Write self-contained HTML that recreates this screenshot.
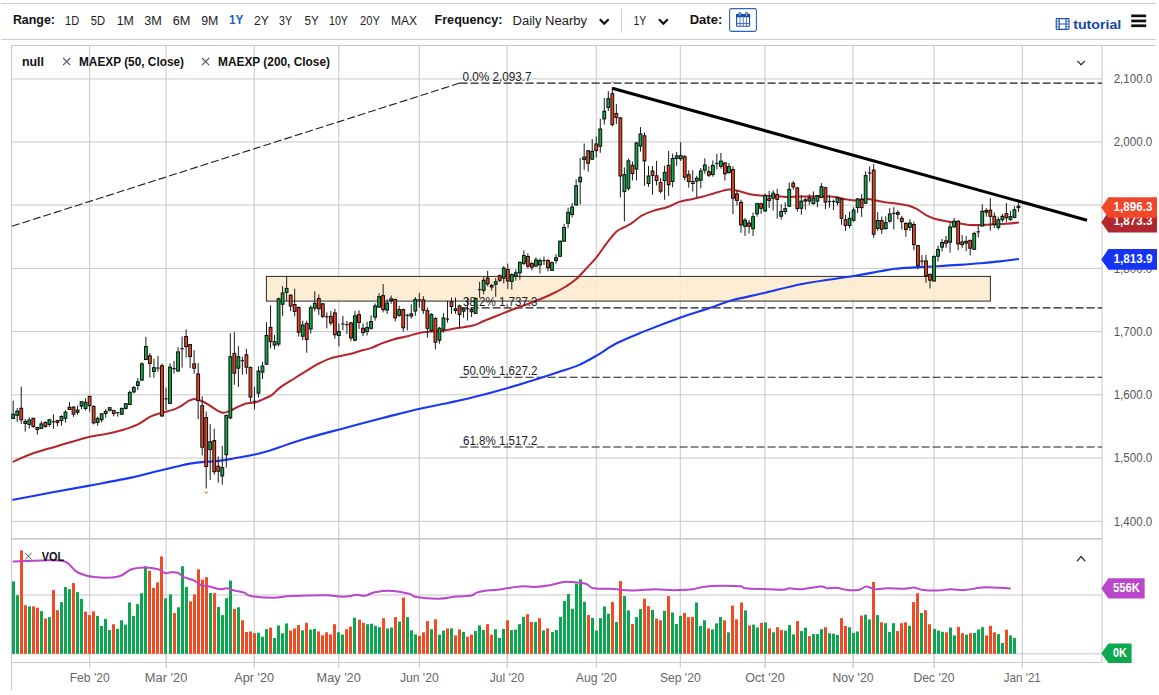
<!DOCTYPE html>
<html><head><meta charset="utf-8"><title>Chart</title>
<style>
html,body{margin:0;padding:0;background:#fff;}
body{width:1159px;height:695px;overflow:hidden;font-family:"Liberation Sans",sans-serif;}
svg{display:block}
text{font-family:"Liberation Sans",sans-serif;}
</style></head><body>
<svg width="1159" height="695" viewBox="0 0 1159 695">
<rect width="1159" height="695" fill="#fff"/>
<g id="toolbar">
<rect x="1" y="3" width="1155" height="1" fill="#cdcdcd"/>
<rect x="1" y="39" width="1155" height="1" fill="#cdcdcd"/>
<text x="12.9" y="24.2" font-size="12.5" font-weight="bold" fill="#111" textLength="42.1" lengthAdjust="spacingAndGlyphs">Range:</text>
<text x="65.1" y="24.8" font-size="12.5" fill="#222" textLength="14.2" lengthAdjust="spacingAndGlyphs">1D</text>
<text x="90.7" y="24.8" font-size="12.5" fill="#222" textLength="14.3" lengthAdjust="spacingAndGlyphs">5D</text>
<text x="116.7" y="24.8" font-size="12.5" fill="#222" textLength="17.1" lengthAdjust="spacingAndGlyphs">1M</text>
<text x="144.3" y="24.8" font-size="12.5" fill="#222" textLength="17.6" lengthAdjust="spacingAndGlyphs">3M</text>
<text x="172.7" y="24.8" font-size="12.5" fill="#222" textLength="17.7" lengthAdjust="spacingAndGlyphs">6M</text>
<text x="201.2" y="24.8" font-size="12.5" fill="#222" textLength="17.1" lengthAdjust="spacingAndGlyphs">9M</text>
<text x="229" y="24.2" font-size="12.5" font-weight="bold" fill="#1f5fbf" textLength="14.5" lengthAdjust="spacingAndGlyphs">1Y</text>
<text x="254" y="24.8" font-size="12.5" fill="#222" textLength="15" lengthAdjust="spacingAndGlyphs">2Y</text>
<text x="279" y="24.8" font-size="12.5" fill="#222" textLength="13" lengthAdjust="spacingAndGlyphs">3Y</text>
<text x="304.5" y="24.8" font-size="12.5" fill="#222" textLength="14.2" lengthAdjust="spacingAndGlyphs">5Y</text>
<text x="329" y="24.8" font-size="12.5" fill="#222" textLength="19" lengthAdjust="spacingAndGlyphs">10Y</text>
<text x="360" y="24.8" font-size="12.5" fill="#222" textLength="20" lengthAdjust="spacingAndGlyphs">20Y</text>
<text x="391" y="24.8" font-size="12.5" fill="#222" textLength="26" lengthAdjust="spacingAndGlyphs">MAX</text>
<text x="434.5" y="24.2" font-size="12.5" font-weight="bold" fill="#111" textLength="68" lengthAdjust="spacingAndGlyphs">Frequency:</text>
<text x="512.6" y="24.7" font-size="12.5" fill="#222" textLength="74.4" lengthAdjust="spacingAndGlyphs">Daily Nearby</text>
<path d="M599.8 19.3 L604.2 23.8 L608.6 19.3" fill="none" stroke="#111" stroke-width="2.2"/>
<rect x="621" y="8.5" width="1" height="24" fill="#d0d0d0"/>
<text x="633.4" y="24.7" font-size="12.5" fill="#222" textLength="12.8" lengthAdjust="spacingAndGlyphs">1Y</text>
<path d="M659 19.3 L663.4 23.8 L667.8 19.3" fill="none" stroke="#111" stroke-width="2.2"/>
<text x="689.7" y="24.2" font-size="12.5" font-weight="bold" fill="#111" textLength="32.6" lengthAdjust="spacingAndGlyphs">Date:</text>
<rect x="729.6" y="8.6" width="26.8" height="22.8" rx="1.8" fill="#fff" stroke="#2566c8" stroke-width="1.1"/>
<rect x="736.6" y="14.5" width="13" height="11.8" rx="0.8" fill="#fff" stroke="#1d4fa0" stroke-width="1.1"/>
<rect x="736.1" y="14" width="14" height="3.3" fill="#1d4fa0"/>
<path d="M740 17.3 V26 M743.3 17.3 V26 M746.5 17.3 V26" stroke="#3f74d4" stroke-width="0.9" fill="none"/>
<path d="M737 23.6 H749.4" stroke="#2a5ab0" stroke-width="0.9" fill="none"/>
<rect x="738.7" y="12.4" width="2.3" height="3.7" rx="1" fill="#8fbcf5" stroke="#1d4fa0" stroke-width="0.9"/>
<rect x="745.5" y="12.4" width="2.3" height="3.7" rx="1" fill="#8fbcf5" stroke="#1d4fa0" stroke-width="0.9"/>
<g stroke="#1a4fa8" fill="none" stroke-width="1.1">
<rect x="1056.2" y="18.6" width="12.8" height="10.8" rx="0.8"/>
<path d="M1059.2 18.6 V29.4 M1066 18.6 V29.4 M1059.2 24 H1066" />
<path d="M1056.2 21.3 H1059.2 M1056.2 24 H1059.2 M1056.2 26.7 H1059.2 M1066 21.3 H1069 M1066 24 H1069 M1066 26.7 H1069" stroke-width="0.8"/>
</g>
<text x="1073.2" y="28.5" font-size="13" font-weight="bold" fill="#1247a0" textLength="48.1" lengthAdjust="spacingAndGlyphs">tutorial</text>
<rect x="1131.2" y="14.5" width="15" height="2.7" fill="#111"/>
<rect x="1131.2" y="19.6" width="15" height="2.7" fill="#111"/>
<rect x="1131.2" y="24.4" width="15" height="2.7" fill="#111"/>
</g>
<g id="grid">
<rect x="89.20" y="45.5" width="1" height="622" fill="#c8c8c8"/>
<rect x="165.55" y="45.5" width="1" height="622" fill="#c8c8c8"/>
<rect x="253.70" y="45.5" width="1" height="622" fill="#c8c8c8"/>
<rect x="338.25" y="45.5" width="1" height="622" fill="#c8c8c8"/>
<rect x="418.75" y="45.5" width="1" height="622" fill="#c8c8c8"/>
<rect x="506.50" y="45.5" width="1" height="622" fill="#c8c8c8"/>
<rect x="595.75" y="45.5" width="1" height="622" fill="#c8c8c8"/>
<rect x="679.75" y="45.5" width="1" height="622" fill="#c8c8c8"/>
<rect x="764.50" y="45.5" width="1" height="622" fill="#c8c8c8"/>
<rect x="852.50" y="45.5" width="1" height="622" fill="#c8c8c8"/>
<rect x="933.50" y="45.5" width="1" height="622" fill="#c8c8c8"/>
<rect x="1021.75" y="45.5" width="1" height="622" fill="#c8c8c8"/>
<rect x="11.5" y="141.40" width="1090.5" height="1" fill="#c8c8c8"/>
<rect x="11.5" y="204.60" width="1090.5" height="1" fill="#c8c8c8"/>
<rect x="11.5" y="267.90" width="1090.5" height="1" fill="#c8c8c8"/>
<rect x="11.5" y="331.10" width="1090.5" height="1" fill="#c8c8c8"/>
<rect x="11.5" y="394.30" width="1090.5" height="1" fill="#c8c8c8"/>
<rect x="11.5" y="457.55" width="1090.5" height="1" fill="#c8c8c8"/>
<rect x="11.5" y="520.80" width="1090.5" height="1" fill="#c8c8c8"/>
<rect x="11.5" y="594.5" width="1090.5" height="1" fill="#c8c8c8"/>
<rect x="11.5" y="78.45" width="1090.5" height="1" fill="#c8c8c8"/>
<rect x="11.0" y="45" width="1145.0" height="1" fill="#c8c8c8"/>
<rect x="11.0" y="45" width="1" height="645" fill="#c8c8c8"/>
<rect x="1101.5" y="45" width="1" height="618" fill="#c8c8c8"/>
<rect x="11.5" y="538" width="1090.5" height="1.6" fill="#c8c8c8"/>
<rect x="11.5" y="653.3" width="1090.5" height="1" fill="#c8c8c8"/>
<rect x="11.5" y="662" width="1090.5" height="1" fill="#c8c8c8"/>
</g>
<path d="M459.6 83.1 L11.5 226.4" stroke="#1c1c1c" stroke-width="1.1" stroke-dasharray="8 3" fill="none"/>
<path d="M459.6 83.1 L1102 83.1" stroke="#1c1c1c" stroke-width="1.1" stroke-dasharray="8 3" fill="none"/>
<path d="M459.6 307.9 L1102 307.9" stroke="#1c1c1c" stroke-width="1.1" stroke-dasharray="8 3" fill="none"/>
<path d="M459.6 377.3 L1102 377.3" stroke="#1c1c1c" stroke-width="1.1" stroke-dasharray="8 3" fill="none"/>
<path d="M459.6 447 L1102 447" stroke="#1c1c1c" stroke-width="1.1" stroke-dasharray="8 3" fill="none"/>
<rect x="266.4" y="276.4" width="724" height="24.7" fill="#fdebcf" fill-opacity="0.88" stroke="#2a2a2a" stroke-width="1"/>
<path d="M13.2 499.8 C19.3 498.6 37.3 495.2 50.0 492.8 C62.7 490.4 75.8 488.2 89.5 485.6 C103.2 483.0 121.3 479.7 132.2 477.4 C143.1 475.1 147.2 473.7 154.8 471.8 C162.4 469.9 172.1 467.6 178.0 466.2 C183.9 464.8 185.6 464.3 190.0 463.6 C194.4 462.9 199.6 462.3 204.4 461.9 C209.2 461.4 214.0 461.5 218.8 460.9 C223.6 460.3 227.2 459.6 233.2 458.5 C239.2 457.4 248.9 455.8 254.7 454.5 C260.5 453.2 263.8 452.2 268.0 451.0 C272.2 449.8 273.7 449.1 280.0 447.0 C286.3 444.9 296.0 441.4 305.9 438.5 C315.8 435.6 326.6 432.8 339.5 429.4 C352.4 425.9 370.1 421.2 383.5 417.8 C396.9 414.4 409.4 411.1 419.8 408.7 C430.2 406.3 436.6 405.4 445.7 403.5 C454.8 401.6 463.8 399.7 474.1 397.1 C484.5 394.5 497.0 391.1 507.8 388.0 C518.6 384.9 530.2 381.1 538.9 378.4 C547.6 375.6 553.4 373.7 560.0 371.5 C566.6 369.3 572.6 367.7 578.7 365.1 C584.8 362.5 590.3 359.3 596.5 355.7 C602.7 352.1 608.1 347.6 616.1 343.5 C624.1 339.4 633.4 335.8 644.2 331.4 C655.0 327.0 669.8 321.3 680.7 317.4 C691.6 313.5 701.1 310.9 709.7 308.0 C718.3 305.1 722.8 302.9 732.1 300.3 C741.4 297.8 753.4 295.5 765.3 292.7 C777.2 289.9 788.7 286.5 803.5 283.7 C818.3 280.9 841.2 278.1 854.0 276.0 C866.8 273.9 873.2 272.5 880.0 271.3 C886.8 270.1 889.2 269.5 895.0 268.8 C900.8 268.1 907.8 267.8 914.9 267.4 C922.0 267.0 930.2 266.6 937.6 266.2 C945.0 265.8 952.0 265.4 959.1 264.9 C966.2 264.4 973.2 263.9 980.0 263.3 C986.8 262.7 993.7 262.1 1000.0 261.4 C1006.3 260.7 1015.0 259.5 1018.0 259.1" fill="none" stroke="#1a38ee" stroke-width="2.1" stroke-linejoin="round" stroke-linecap="round"/>
<path d="M13.4 461.6 C16.6 460.2 25.2 456.1 32.5 453.5 C39.8 450.9 47.5 449.0 56.9 446.2 C66.3 443.4 80.6 438.9 88.7 436.9 C96.8 434.9 100.3 435.1 105.8 434.0 C111.3 432.9 116.3 431.9 121.6 430.3 C126.9 428.8 132.6 427.0 137.4 424.7 C142.2 422.4 146.6 418.5 150.4 416.6 C154.2 414.7 156.3 414.4 160.4 413.2 C164.5 411.9 171.2 410.4 174.8 409.1 C178.4 407.8 179.7 406.9 182.0 405.5 C184.3 404.1 186.5 402.0 188.6 400.9 C190.7 399.8 192.2 398.9 194.4 398.9 C196.6 398.9 199.2 400.0 201.6 401.0 C204.0 402.0 206.2 403.3 208.8 404.9 C211.4 406.5 215.0 409.3 217.4 410.6 C219.8 411.9 221.3 412.7 223.2 412.8 C225.1 412.9 226.5 412.4 228.9 411.4 C231.3 410.4 234.7 408.3 237.6 407.0 C240.5 405.7 243.3 404.2 246.2 403.5 C249.1 402.8 251.9 403.2 254.8 402.5 C257.7 401.8 260.6 400.4 263.5 399.1 C266.4 397.8 269.4 396.7 272.1 394.8 C274.9 392.9 276.2 390.4 280.0 387.6 C283.8 384.8 290.2 381.1 295.0 378.0 C299.8 374.9 305.1 371.6 308.9 369.3 C312.7 367.0 314.2 365.9 317.6 364.2 C321.0 362.5 325.3 360.3 329.1 358.9 C332.9 357.5 337.0 356.9 340.6 356.0 C344.2 355.1 347.8 354.6 351.0 353.8 C354.2 353.0 356.8 351.9 360.0 351.0 C363.2 350.1 366.5 349.7 370.1 348.4 C373.7 347.1 377.9 344.9 381.7 343.4 C385.5 341.9 388.9 340.6 393.2 339.4 C397.5 338.2 403.3 337.3 407.6 336.2 C411.9 335.1 415.3 333.7 419.1 332.9 C422.9 332.1 426.7 331.9 430.6 331.6 C434.5 331.3 438.1 331.5 442.5 330.9 C446.9 330.3 452.2 329.0 457.3 328.1 C462.4 327.2 468.8 326.7 473.1 325.6 C477.4 324.5 479.1 323.0 483.2 321.3 C487.3 319.6 492.8 317.4 497.6 315.5 C502.4 313.6 507.1 311.6 511.9 309.8 C516.7 308.0 521.6 306.2 526.3 304.5 C531.0 302.8 535.2 301.3 540.0 299.3 C544.8 297.3 550.8 294.6 555.0 292.5 C559.2 290.4 561.5 289.2 565.0 287.0 C568.5 284.8 572.2 282.6 576.0 279.3 C579.8 276.0 584.2 270.7 587.6 267.1 C591.0 263.5 592.9 261.9 596.2 257.7 C599.6 253.5 604.4 246.2 607.7 241.9 C611.1 237.6 613.7 234.2 616.3 231.8 C618.9 229.4 621.0 228.8 623.5 227.5 C626.0 226.2 628.0 225.7 631.0 223.7 C634.0 221.7 638.0 217.7 641.7 215.6 C645.4 213.5 648.9 212.3 653.2 210.9 C657.5 209.5 663.3 208.5 667.6 207.0 C671.9 205.5 675.3 203.2 679.1 201.9 C682.9 200.6 686.8 200.2 690.6 199.4 C694.4 198.6 698.1 197.8 702.1 196.8 C706.1 195.8 710.0 194.4 714.4 193.2 C718.8 192.0 725.0 190.0 728.8 189.6 C732.6 189.2 734.0 190.1 737.4 190.8 C740.8 191.5 745.1 193.1 748.9 193.9 C752.7 194.7 756.1 195.2 760.4 195.6 C764.7 196.0 770.5 195.9 774.8 196.1 C779.1 196.3 782.1 196.9 786.3 197.0 C790.5 197.1 794.6 196.7 800.0 196.6 C805.4 196.5 813.3 196.3 818.8 196.3 C824.3 196.3 828.4 196.2 833.2 196.8 C838.0 197.4 843.8 199.0 847.6 199.6 C851.4 200.2 852.9 200.5 856.2 200.4 C859.6 200.3 864.4 198.9 867.7 198.9 C871.1 198.9 873.4 200.0 876.3 200.6 C879.2 201.2 882.0 201.9 885.0 202.3 C888.0 202.8 890.4 202.7 894.4 203.3 C898.4 203.9 905.0 204.8 908.8 205.8 C912.6 206.8 914.5 207.9 917.4 209.4 C920.3 210.9 923.1 213.6 926.0 215.1 C928.9 216.6 931.3 217.7 934.7 218.7 C938.1 219.7 942.4 220.5 946.2 221.2 C950.0 221.9 953.9 222.5 957.7 223.1 C961.5 223.7 965.0 224.7 969.2 225.0 C973.4 225.3 978.8 225.0 983.0 224.9 C987.2 224.8 990.7 224.5 994.5 224.3 C998.3 224.1 1002.1 224.0 1006.0 223.7 C1009.9 223.4 1016.1 222.8 1018.1 222.6" fill="none" stroke="#b3262c" stroke-width="2.05" stroke-linejoin="round" stroke-linecap="round"/>
<g id="candles">
<path d="M13.20 400.7V418.8M17.22 408.1V421.9M21.24 386.6V423.9M25.26 418.8V431.6M29.28 417.3V428.4M33.30 417.8V427.9M37.33 426.9V434.6M41.35 421.2V428.6M45.37 421.4V427.9M49.39 418.8V426.9M53.41 414.3V428.9M57.43 419.8V426.4M61.45 415.3V425.6M65.47 410.3V422.6M69.49 402.2V409.8M73.52 406.3V416.8M77.54 405.7V414.8M81.56 401.2V409.3M85.58 398.2V410.3M89.60 395.7V411.8M93.62 405.2V424.4M97.64 416.5V425.6M101.66 413.1V422.4M105.68 409.2V417.6M109.70 407.3V411.3M113.72 409.9V416.3M117.75 412.0V416.6M121.77 407.7V414.9M125.79 403.1V409.4M129.81 390.4V405.1M133.83 386.1V393.3M137.85 378.2V390.1M141.87 362.4V380.6M145.89 336.9V360.2M149.91 353.0V377.5M153.93 358.8V377.8M157.96 355.9V371.7M161.98 363.4V417.0M166.00 387.6V409.9M170.02 363.4V404.1M174.04 360.9V373.5M178.06 347.3V371.7M182.08 336.5V367.6M186.10 329.4V357.4M190.12 344.0V368.2M194.14 350.2V373.7M198.17 363.2V419.3M202.19 396.3V455.4M206.21 411.5V488.5M210.23 424.2V479.9M214.25 428.8V474.5M218.27 456.4V482.7M222.29 446.0V484.6M226.31 414.4V467.6M230.33 333.2V419.3M234.35 332.2V384.7M238.38 346.2V386.9M242.40 356.7V374.7M246.42 348.8V374.0M250.44 366.3V402.0M254.46 386.9V409.5M258.48 366.3V397.4M262.50 362.0V379.0M266.52 322.3V365.0M270.54 305.3V348.4M274.56 334.9V349.4M278.59 297.6V346.3M282.61 286.1V315.8M286.63 276.0V300.9M290.65 294.2V311.0M294.67 288.7V316.3M298.69 306.7V336.5M302.71 320.6V340.2M306.73 320.6V352.7M310.75 305.3V333.6M314.77 291.3V311.4M318.80 294.5V314.9M322.82 303.1V318.2M326.84 312.4V328.3M330.86 311.0V325.4M334.88 308.8V338.8M338.90 323.5V346.3M342.92 316.0V330.1M346.94 321.1V334.0M350.96 321.8V341.2M354.98 311.0V341.2M359.01 310.3V329.0M363.03 323.5V336.2M367.05 321.8V335.5M371.07 315.3V329.7M375.09 303.4V320.6M379.11 293.3V307.7M383.13 284.1V312.4M387.15 299.5V313.9M391.17 295.6V303.8M395.19 298.5V321.5M399.22 305.7V316.8M403.24 308.6V331.6M407.26 313.9V330.4M411.28 304.2V318.6M415.30 297.0V315.8M419.32 292.7V307.7M423.34 296.2V313.9M427.36 307.4V337.6M431.38 313.2V332.2M435.40 317.2V349.4M439.43 326.8V343.7M443.45 313.2V332.6M447.47 300.8V322.6M451.49 297.6V314.1M455.51 297.6V313.7M459.53 304.7V327.8M463.55 307.6V317.7M467.57 297.6V320.6M471.59 307.6V317.0M475.61 297.6V314.1M479.64 281.7V297.6M483.66 277.1V294.4M487.68 270.9V286.3M491.70 283.9V290.6M495.72 278.1V296.8M499.74 274.5V282.0M503.76 266.2V283.5M507.78 263.7V288.9M511.80 273.4V289.6M515.83 269.5V280.6M519.85 261.6V279.6M523.87 250.4V265.2M527.89 253.2V268.5M531.91 261.6V270.4M535.93 257.3V267.0M539.95 258.4V273.5M543.97 256.5V264.9M547.99 258.8V271.4M552.01 261.3V270.9M556.04 254.1V263.7M560.06 240.4V257.0M564.08 223.9V241.9M568.10 207.6V228.2M572.12 203.0V217.4M576.14 179.3V205.6M580.16 158.1V204.5M584.18 143.5V169.7M588.20 149.8V171.7M592.22 139.0V159.9M596.25 136.6V157.5M600.27 118.9V152.7M604.29 98.0V124.6M608.31 91.1V111.0M612.33 87.2V126.5M616.35 104.1V123.9M620.37 117.0V197.6M624.39 167.4V221.4M628.41 158.5V190.4M632.43 161.4V180.4M636.46 142.2V180.4M640.48 127.1V151.6M644.50 132.6V185.8M648.52 166.0V186.8M652.54 166.0V194.7M656.56 160.9V185.4M660.58 178.2V193.3M664.60 165.7V199.8M668.62 150.9V195.9M672.64 153.7V187.3M676.67 151.9V165.7M680.69 142.2V160.9M684.71 155.2V180.4M688.73 170.3V187.6M692.75 170.3V191.6M696.77 175.8V197.6M700.79 168.1V188.3M704.81 158.3V173.8M708.83 166.3V177.0M712.85 160.5V176.7M716.88 153.9V169.5M720.90 152.9V168.7M724.92 162.0V180.7M728.94 163.0V173.5M732.96 166.3V214.1M736.98 190.3V205.4M741.00 199.7V232.8M745.02 218.1V235.9M749.04 219.8V233.5M753.06 212.6V235.9M757.09 202.8V216.7M761.11 202.6V213.8M765.13 193.6V211.9M769.15 191.0V208.0M773.17 190.3V210.5M777.19 188.9V218.7M781.21 204.3V219.5M785.23 202.3V214.4M789.25 182.7V206.9M793.27 180.9V189.6M797.30 186.7V211.7M801.32 195.3V214.7M805.34 197.5V209.7M809.36 194.3V204.7M813.38 191.4V204.7M817.40 194.9V207.3M821.42 183.1V198.2M825.44 186.7V209.0M829.46 194.9V207.8M833.48 199.6V210.1M837.50 196.8V205.4M841.53 198.2V224.8M845.55 215.0V230.9M849.57 211.6V228.4M853.59 207.3V221.9M857.61 198.2V213.0M861.63 194.3V216.9M865.65 171.3V204.0M869.67 166.5V181.7M873.69 164.1V237.8M877.72 212.2V230.9M881.74 216.6V234.0M885.76 216.4V229.6M889.78 208.2V222.6M893.80 207.2V229.5M897.82 210.1V219.5M901.84 215.9V229.5M905.86 222.0V236.7M909.88 219.2V231.0M913.90 221.6V250.4M917.93 245.0V269.5M921.95 255.1V265.8M925.97 254.7V282.8M929.99 273.4V288.5M934.01 255.4V281.6M938.03 245.6V261.5M942.05 238.9V251.4M946.07 236.0V247.9M950.09 223.1V252.6M954.11 218.0V227.8M958.13 220.2V250.4M962.16 235.1V248.2M966.18 236.1V251.1M970.20 239.7V255.5M974.22 231.6V250.0M978.24 225.0V237.5M982.26 204.2V226.6M986.28 208.2V216.6M990.30 198.2V230.6M994.32 212.5V227.8M998.35 216.8V229.7M1002.37 214.0V222.0M1006.39 203.0V222.4M1010.41 210.8V220.9M1014.43 206.2V218.2M1018.45 203.0V212.0" stroke="#1a1a1a" stroke-width="1" fill="none"/>
<rect x="11.80" y="414.3" width="2.8" height="4.2" fill="#12aa4a" stroke="#0a0a0a" stroke-width="1"/>
<rect x="15.82" y="411.1" width="2.8" height="4.2" fill="#12aa4a" stroke="#0a0a0a" stroke-width="1"/>
<rect x="19.84" y="408.3" width="2.8" height="11.5" fill="#ee4424" stroke="#0a0a0a" stroke-width="1"/>
<rect x="23.86" y="421.4" width="2.8" height="2.0" fill="#ee4424" stroke="#0a0a0a" stroke-width="1"/>
<rect x="27.88" y="420.0" width="2.8" height="4.4" fill="#12aa4a" stroke="#0a0a0a" stroke-width="1"/>
<rect x="31.91" y="418.3" width="2.8" height="8.1" fill="#ee4424" stroke="#0a0a0a" stroke-width="1"/>
<rect x="35.93" y="427.4" width="2.8" height="2.2" fill="#ee4424" stroke="#0a0a0a" stroke-width="1"/>
<rect x="39.95" y="423.9" width="2.8" height="4.5" fill="#12aa4a" stroke="#0a0a0a" stroke-width="1"/>
<rect x="43.97" y="422.4" width="2.8" height="4.0" fill="#ee4424" stroke="#0a0a0a" stroke-width="1"/>
<rect x="47.99" y="419.8" width="2.8" height="4.6" fill="#12aa4a" stroke="#0a0a0a" stroke-width="1"/>
<rect x="51.71" y="421.1" width="3.4" height="1.2" fill="#1a1a1a"/>
<rect x="56.03" y="420.6" width="2.8" height="2.0" fill="#ee4424" stroke="#0a0a0a" stroke-width="1"/>
<rect x="60.05" y="416.5" width="2.8" height="4.1" fill="#12aa4a" stroke="#0a0a0a" stroke-width="1"/>
<rect x="64.07" y="412.1" width="2.8" height="6.2" fill="#12aa4a" stroke="#0a0a0a" stroke-width="1"/>
<rect x="68.09" y="407.3" width="2.8" height="2.2" fill="#ee4424" stroke="#0a0a0a" stroke-width="1"/>
<rect x="72.11" y="407.1" width="2.8" height="7.0" fill="#ee4424" stroke="#0a0a0a" stroke-width="1"/>
<rect x="76.14" y="410.1" width="2.8" height="2.2" fill="#12aa4a" stroke="#0a0a0a" stroke-width="1"/>
<rect x="80.16" y="401.7" width="2.8" height="4.4" fill="#12aa4a" stroke="#0a0a0a" stroke-width="1"/>
<rect x="84.18" y="402.4" width="2.8" height="6.1" fill="#12aa4a" stroke="#0a0a0a" stroke-width="1"/>
<rect x="88.20" y="396.4" width="2.8" height="9.3" fill="#ee4424" stroke="#0a0a0a" stroke-width="1"/>
<rect x="92.22" y="406.5" width="2.8" height="16.4" fill="#ee4424" stroke="#0a0a0a" stroke-width="1"/>
<rect x="96.24" y="418.5" width="2.8" height="3.9" fill="#12aa4a" stroke="#0a0a0a" stroke-width="1"/>
<rect x="100.26" y="413.8" width="2.8" height="6.0" fill="#12aa4a" stroke="#0a0a0a" stroke-width="1"/>
<rect x="104.28" y="411.4" width="2.8" height="2.0" fill="#12aa4a" stroke="#0a0a0a" stroke-width="1"/>
<rect x="108.30" y="407.7" width="2.8" height="2.6" fill="#12aa4a" stroke="#0a0a0a" stroke-width="1"/>
<rect x="112.32" y="410.6" width="2.8" height="2.9" fill="#ee4424" stroke="#0a0a0a" stroke-width="1"/>
<rect x="116.05" y="412.1" width="3.4" height="1.2" fill="#1a1a1a"/>
<rect x="120.37" y="408.4" width="2.8" height="5.8" fill="#12aa4a" stroke="#0a0a0a" stroke-width="1"/>
<rect x="124.39" y="403.7" width="2.8" height="4.7" fill="#12aa4a" stroke="#0a0a0a" stroke-width="1"/>
<rect x="128.41" y="392.6" width="2.8" height="11.9" fill="#12aa4a" stroke="#0a0a0a" stroke-width="1"/>
<rect x="132.43" y="387.6" width="2.8" height="4.3" fill="#12aa4a" stroke="#0a0a0a" stroke-width="1"/>
<rect x="136.45" y="381.8" width="2.8" height="3.6" fill="#12aa4a" stroke="#0a0a0a" stroke-width="1"/>
<rect x="140.47" y="363.8" width="2.8" height="16.3" fill="#12aa4a" stroke="#0a0a0a" stroke-width="1"/>
<rect x="144.49" y="346.5" width="2.8" height="13.0" fill="#12aa4a" stroke="#0a0a0a" stroke-width="1"/>
<rect x="148.51" y="355.9" width="2.8" height="7.5" fill="#ee4424" stroke="#0a0a0a" stroke-width="1"/>
<rect x="152.53" y="367.7" width="2.8" height="3.7" fill="#12aa4a" stroke="#0a0a0a" stroke-width="1"/>
<rect x="156.26" y="367.5" width="3.4" height="1.2" fill="#1a1a1a"/>
<rect x="160.58" y="365.7" width="2.8" height="50.3" fill="#ee4424" stroke="#0a0a0a" stroke-width="1"/>
<rect x="164.30" y="398.2" width="3.4" height="1.2" fill="#1a1a1a"/>
<rect x="168.62" y="367.1" width="2.8" height="36.3" fill="#12aa4a" stroke="#0a0a0a" stroke-width="1"/>
<rect x="172.34" y="368.0" width="3.4" height="1.2" fill="#1a1a1a"/>
<rect x="176.66" y="351.9" width="2.8" height="19.1" fill="#12aa4a" stroke="#0a0a0a" stroke-width="1"/>
<rect x="180.38" y="348.2" width="3.4" height="1.2" fill="#1a1a1a"/>
<rect x="184.70" y="336.5" width="2.8" height="10.1" fill="#ee4424" stroke="#0a0a0a" stroke-width="1"/>
<rect x="188.72" y="344.6" width="2.8" height="11.8" fill="#ee4424" stroke="#0a0a0a" stroke-width="1"/>
<rect x="192.74" y="363.9" width="2.8" height="4.3" fill="#ee4424" stroke="#0a0a0a" stroke-width="1"/>
<rect x="196.77" y="374.0" width="2.8" height="26.6" fill="#ee4424" stroke="#0a0a0a" stroke-width="1"/>
<rect x="200.79" y="405.7" width="2.8" height="41.5" fill="#ee4424" stroke="#0a0a0a" stroke-width="1"/>
<rect x="204.81" y="417.6" width="2.8" height="48.9" fill="#ee4424" stroke="#0a0a0a" stroke-width="1"/>
<rect x="208.83" y="441.7" width="2.8" height="7.9" fill="#12aa4a" stroke="#0a0a0a" stroke-width="1"/>
<rect x="212.85" y="440.6" width="2.8" height="31.1" fill="#ee4424" stroke="#0a0a0a" stroke-width="1"/>
<rect x="216.87" y="466.2" width="2.8" height="5.0" fill="#ee4424" stroke="#0a0a0a" stroke-width="1"/>
<rect x="220.89" y="467.6" width="2.8" height="8.4" fill="#12aa4a" stroke="#0a0a0a" stroke-width="1"/>
<rect x="224.91" y="415.5" width="2.8" height="39.2" fill="#12aa4a" stroke="#0a0a0a" stroke-width="1"/>
<rect x="228.93" y="356.7" width="2.8" height="61.1" fill="#12aa4a" stroke="#0a0a0a" stroke-width="1"/>
<rect x="232.95" y="353.4" width="2.8" height="19.8" fill="#ee4424" stroke="#0a0a0a" stroke-width="1"/>
<rect x="236.98" y="356.7" width="2.8" height="11.5" fill="#12aa4a" stroke="#0a0a0a" stroke-width="1"/>
<rect x="240.70" y="360.1" width="3.4" height="1.2" fill="#1a1a1a"/>
<rect x="245.02" y="354.8" width="2.8" height="12.4" fill="#ee4424" stroke="#0a0a0a" stroke-width="1"/>
<rect x="249.04" y="367.5" width="2.8" height="29.5" fill="#ee4424" stroke="#0a0a0a" stroke-width="1"/>
<rect x="252.76" y="400.7" width="3.4" height="1.2" fill="#1a1a1a"/>
<rect x="257.08" y="371.1" width="2.8" height="22.0" fill="#12aa4a" stroke="#0a0a0a" stroke-width="1"/>
<rect x="261.10" y="366.0" width="2.8" height="6.1" fill="#12aa4a" stroke="#0a0a0a" stroke-width="1"/>
<rect x="265.12" y="335.5" width="2.8" height="28.7" fill="#12aa4a" stroke="#0a0a0a" stroke-width="1"/>
<rect x="269.14" y="327.4" width="2.8" height="14.3" fill="#ee4424" stroke="#0a0a0a" stroke-width="1"/>
<rect x="273.17" y="341.7" width="2.8" height="3.4" fill="#12aa4a" stroke="#0a0a0a" stroke-width="1"/>
<rect x="277.19" y="298.8" width="2.8" height="45.3" fill="#12aa4a" stroke="#0a0a0a" stroke-width="1"/>
<rect x="281.21" y="293.0" width="2.8" height="11.2" fill="#12aa4a" stroke="#0a0a0a" stroke-width="1"/>
<rect x="285.23" y="288.4" width="2.8" height="3.9" fill="#12aa4a" stroke="#0a0a0a" stroke-width="1"/>
<rect x="289.25" y="295.2" width="2.8" height="10.8" fill="#ee4424" stroke="#0a0a0a" stroke-width="1"/>
<rect x="293.27" y="304.5" width="2.8" height="6.9" fill="#ee4424" stroke="#0a0a0a" stroke-width="1"/>
<rect x="297.29" y="307.4" width="2.8" height="24.8" fill="#ee4424" stroke="#0a0a0a" stroke-width="1"/>
<rect x="301.31" y="325.0" width="2.8" height="11.2" fill="#12aa4a" stroke="#0a0a0a" stroke-width="1"/>
<rect x="305.33" y="323.5" width="2.8" height="15.9" fill="#ee4424" stroke="#0a0a0a" stroke-width="1"/>
<rect x="309.35" y="307.7" width="2.8" height="21.3" fill="#12aa4a" stroke="#0a0a0a" stroke-width="1"/>
<rect x="313.38" y="303.4" width="2.8" height="4.7" fill="#12aa4a" stroke="#0a0a0a" stroke-width="1"/>
<rect x="317.40" y="298.5" width="2.8" height="10.3" fill="#ee4424" stroke="#0a0a0a" stroke-width="1"/>
<rect x="321.42" y="303.8" width="2.8" height="12.5" fill="#ee4424" stroke="#0a0a0a" stroke-width="1"/>
<rect x="325.14" y="316.2" width="3.4" height="1.2" fill="#1a1a1a"/>
<rect x="329.46" y="316.3" width="2.8" height="6.6" fill="#ee4424" stroke="#0a0a0a" stroke-width="1"/>
<rect x="333.48" y="312.9" width="2.8" height="21.8" fill="#ee4424" stroke="#0a0a0a" stroke-width="1"/>
<rect x="337.50" y="331.6" width="2.8" height="3.9" fill="#12aa4a" stroke="#0a0a0a" stroke-width="1"/>
<rect x="341.22" y="323.4" width="3.4" height="1.2" fill="#1a1a1a"/>
<rect x="345.24" y="324.1" width="3.4" height="1.2" fill="#1a1a1a"/>
<rect x="349.56" y="322.9" width="2.8" height="15.0" fill="#ee4424" stroke="#0a0a0a" stroke-width="1"/>
<rect x="353.58" y="315.8" width="2.8" height="24.4" fill="#12aa4a" stroke="#0a0a0a" stroke-width="1"/>
<rect x="357.61" y="314.6" width="2.8" height="7.9" fill="#ee4424" stroke="#0a0a0a" stroke-width="1"/>
<rect x="361.63" y="328.3" width="2.8" height="4.3" fill="#ee4424" stroke="#0a0a0a" stroke-width="1"/>
<rect x="365.65" y="327.6" width="2.8" height="4.0" fill="#12aa4a" stroke="#0a0a0a" stroke-width="1"/>
<rect x="369.67" y="321.5" width="2.8" height="6.8" fill="#12aa4a" stroke="#0a0a0a" stroke-width="1"/>
<rect x="373.69" y="306.0" width="2.8" height="11.2" fill="#12aa4a" stroke="#0a0a0a" stroke-width="1"/>
<rect x="377.71" y="296.6" width="2.8" height="10.5" fill="#12aa4a" stroke="#0a0a0a" stroke-width="1"/>
<rect x="381.73" y="295.6" width="2.8" height="14.0" fill="#ee4424" stroke="#0a0a0a" stroke-width="1"/>
<rect x="385.75" y="303.1" width="2.8" height="6.9" fill="#12aa4a" stroke="#0a0a0a" stroke-width="1"/>
<rect x="389.77" y="298.8" width="2.8" height="1.7" fill="#12aa4a" stroke="#0a0a0a" stroke-width="1"/>
<rect x="393.80" y="299.5" width="2.8" height="18.3" fill="#ee4424" stroke="#0a0a0a" stroke-width="1"/>
<rect x="397.82" y="309.6" width="2.8" height="5.7" fill="#12aa4a" stroke="#0a0a0a" stroke-width="1"/>
<rect x="401.84" y="309.6" width="2.8" height="18.2" fill="#ee4424" stroke="#0a0a0a" stroke-width="1"/>
<rect x="405.56" y="314.7" width="3.4" height="1.2" fill="#1a1a1a"/>
<rect x="409.88" y="313.9" width="2.8" height="2.1" fill="#12aa4a" stroke="#0a0a0a" stroke-width="1"/>
<rect x="413.90" y="299.5" width="2.8" height="11.5" fill="#12aa4a" stroke="#0a0a0a" stroke-width="1"/>
<rect x="417.62" y="299.3" width="3.4" height="1.2" fill="#1a1a1a"/>
<rect x="421.94" y="299.9" width="2.8" height="10.4" fill="#ee4424" stroke="#0a0a0a" stroke-width="1"/>
<rect x="425.96" y="310.6" width="2.8" height="17.7" fill="#ee4424" stroke="#0a0a0a" stroke-width="1"/>
<rect x="429.98" y="314.6" width="2.8" height="15.8" fill="#12aa4a" stroke="#0a0a0a" stroke-width="1"/>
<rect x="434.00" y="318.6" width="2.8" height="23.6" fill="#ee4424" stroke="#0a0a0a" stroke-width="1"/>
<rect x="438.03" y="328.3" width="2.8" height="11.9" fill="#12aa4a" stroke="#0a0a0a" stroke-width="1"/>
<rect x="442.05" y="318.0" width="2.8" height="11.3" fill="#12aa4a" stroke="#0a0a0a" stroke-width="1"/>
<rect x="445.77" y="318.4" width="3.4" height="1.2" fill="#1a1a1a"/>
<rect x="450.09" y="301.9" width="2.8" height="4.6" fill="#ee4424" stroke="#0a0a0a" stroke-width="1"/>
<rect x="454.11" y="308.8" width="2.8" height="1.7" fill="#12aa4a" stroke="#0a0a0a" stroke-width="1"/>
<rect x="458.13" y="305.9" width="2.8" height="8.6" fill="#ee4424" stroke="#0a0a0a" stroke-width="1"/>
<rect x="462.15" y="308.8" width="2.8" height="2.4" fill="#12aa4a" stroke="#0a0a0a" stroke-width="1"/>
<rect x="465.87" y="308.2" width="3.4" height="1.2" fill="#1a1a1a"/>
<rect x="470.19" y="309.4" width="2.8" height="2.3" fill="#ee4424" stroke="#0a0a0a" stroke-width="1"/>
<rect x="474.21" y="298.3" width="2.8" height="15.1" fill="#12aa4a" stroke="#0a0a0a" stroke-width="1"/>
<rect x="477.94" y="289.0" width="3.4" height="1.2" fill="#1a1a1a"/>
<rect x="482.26" y="280.3" width="2.8" height="10.1" fill="#12aa4a" stroke="#0a0a0a" stroke-width="1"/>
<rect x="486.28" y="278.1" width="2.8" height="5.8" fill="#ee4424" stroke="#0a0a0a" stroke-width="1"/>
<rect x="490.30" y="285.6" width="2.8" height="1.4" fill="#ee4424" stroke="#0a0a0a" stroke-width="1"/>
<rect x="494.32" y="281.7" width="2.8" height="2.6" fill="#12aa4a" stroke="#0a0a0a" stroke-width="1"/>
<rect x="498.34" y="275.7" width="2.8" height="4.6" fill="#ee4424" stroke="#0a0a0a" stroke-width="1"/>
<rect x="502.36" y="268.1" width="2.8" height="10.0" fill="#12aa4a" stroke="#0a0a0a" stroke-width="1"/>
<rect x="506.38" y="269.5" width="2.8" height="11.5" fill="#ee4424" stroke="#0a0a0a" stroke-width="1"/>
<rect x="510.40" y="274.5" width="2.8" height="6.9" fill="#12aa4a" stroke="#0a0a0a" stroke-width="1"/>
<rect x="514.43" y="272.8" width="2.8" height="3.2" fill="#12aa4a" stroke="#0a0a0a" stroke-width="1"/>
<rect x="518.45" y="262.3" width="2.8" height="10.5" fill="#12aa4a" stroke="#0a0a0a" stroke-width="1"/>
<rect x="522.47" y="255.5" width="2.8" height="7.8" fill="#12aa4a" stroke="#0a0a0a" stroke-width="1"/>
<rect x="526.49" y="256.5" width="2.8" height="9.7" fill="#ee4424" stroke="#0a0a0a" stroke-width="1"/>
<rect x="530.51" y="263.6" width="2.8" height="3.6" fill="#ee4424" stroke="#0a0a0a" stroke-width="1"/>
<rect x="534.53" y="259.9" width="2.8" height="6.2" fill="#12aa4a" stroke="#0a0a0a" stroke-width="1"/>
<rect x="538.55" y="260.6" width="2.8" height="4.3" fill="#12aa4a" stroke="#0a0a0a" stroke-width="1"/>
<rect x="542.27" y="260.0" width="3.4" height="1.2" fill="#1a1a1a"/>
<rect x="546.59" y="260.6" width="2.8" height="7.2" fill="#ee4424" stroke="#0a0a0a" stroke-width="1"/>
<rect x="550.61" y="262.7" width="2.8" height="7.7" fill="#12aa4a" stroke="#0a0a0a" stroke-width="1"/>
<rect x="554.64" y="257.7" width="2.8" height="2.9" fill="#12aa4a" stroke="#0a0a0a" stroke-width="1"/>
<rect x="558.66" y="241.2" width="2.8" height="15.1" fill="#12aa4a" stroke="#0a0a0a" stroke-width="1"/>
<rect x="562.68" y="227.5" width="2.8" height="13.7" fill="#12aa4a" stroke="#0a0a0a" stroke-width="1"/>
<rect x="566.70" y="212.4" width="2.8" height="10.8" fill="#12aa4a" stroke="#0a0a0a" stroke-width="1"/>
<rect x="570.72" y="207.1" width="2.8" height="7.4" fill="#12aa4a" stroke="#0a0a0a" stroke-width="1"/>
<rect x="574.74" y="185.8" width="2.8" height="19.2" fill="#12aa4a" stroke="#0a0a0a" stroke-width="1"/>
<rect x="578.76" y="177.3" width="2.8" height="4.5" fill="#12aa4a" stroke="#0a0a0a" stroke-width="1"/>
<rect x="582.78" y="157.1" width="2.8" height="2.5" fill="#12aa4a" stroke="#0a0a0a" stroke-width="1"/>
<rect x="586.80" y="150.8" width="2.8" height="12.4" fill="#ee4424" stroke="#0a0a0a" stroke-width="1"/>
<rect x="590.82" y="151.4" width="2.8" height="7.8" fill="#12aa4a" stroke="#0a0a0a" stroke-width="1"/>
<rect x="594.85" y="144.0" width="2.8" height="6.6" fill="#ee4424" stroke="#0a0a0a" stroke-width="1"/>
<rect x="598.87" y="129.0" width="2.8" height="17.2" fill="#12aa4a" stroke="#0a0a0a" stroke-width="1"/>
<rect x="602.89" y="111.3" width="2.8" height="7.6" fill="#12aa4a" stroke="#0a0a0a" stroke-width="1"/>
<rect x="606.91" y="98.7" width="2.8" height="8.7" fill="#12aa4a" stroke="#0a0a0a" stroke-width="1"/>
<rect x="610.93" y="93.7" width="2.8" height="30.9" fill="#ee4424" stroke="#0a0a0a" stroke-width="1"/>
<rect x="614.95" y="113.6" width="2.8" height="3.8" fill="#ee4424" stroke="#0a0a0a" stroke-width="1"/>
<rect x="618.97" y="117.9" width="2.8" height="58.1" fill="#ee4424" stroke="#0a0a0a" stroke-width="1"/>
<rect x="622.99" y="174.6" width="2.8" height="17.0" fill="#12aa4a" stroke="#0a0a0a" stroke-width="1"/>
<rect x="627.01" y="160.9" width="2.8" height="27.4" fill="#12aa4a" stroke="#0a0a0a" stroke-width="1"/>
<rect x="631.03" y="165.3" width="2.8" height="8.2" fill="#ee4424" stroke="#0a0a0a" stroke-width="1"/>
<rect x="635.06" y="142.9" width="2.8" height="26.2" fill="#12aa4a" stroke="#0a0a0a" stroke-width="1"/>
<rect x="639.08" y="134.0" width="2.8" height="12.1" fill="#12aa4a" stroke="#0a0a0a" stroke-width="1"/>
<rect x="643.10" y="135.8" width="2.8" height="25.1" fill="#ee4424" stroke="#0a0a0a" stroke-width="1"/>
<rect x="647.12" y="176.0" width="2.8" height="7.5" fill="#12aa4a" stroke="#0a0a0a" stroke-width="1"/>
<rect x="651.14" y="171.0" width="2.8" height="4.3" fill="#ee4424" stroke="#0a0a0a" stroke-width="1"/>
<rect x="655.16" y="175.8" width="2.8" height="4.8" fill="#ee4424" stroke="#0a0a0a" stroke-width="1"/>
<rect x="659.18" y="182.5" width="2.8" height="8.7" fill="#ee4424" stroke="#0a0a0a" stroke-width="1"/>
<rect x="663.20" y="172.4" width="2.8" height="8.2" fill="#12aa4a" stroke="#0a0a0a" stroke-width="1"/>
<rect x="667.22" y="165.3" width="2.8" height="19.4" fill="#ee4424" stroke="#0a0a0a" stroke-width="1"/>
<rect x="671.24" y="158.5" width="2.8" height="23.0" fill="#12aa4a" stroke="#0a0a0a" stroke-width="1"/>
<rect x="675.27" y="155.9" width="2.8" height="2.6" fill="#12aa4a" stroke="#0a0a0a" stroke-width="1"/>
<rect x="679.29" y="155.6" width="2.8" height="3.2" fill="#12aa4a" stroke="#0a0a0a" stroke-width="1"/>
<rect x="683.31" y="156.6" width="2.8" height="20.6" fill="#ee4424" stroke="#0a0a0a" stroke-width="1"/>
<rect x="687.33" y="174.6" width="2.8" height="6.9" fill="#ee4424" stroke="#0a0a0a" stroke-width="1"/>
<rect x="691.35" y="181.5" width="2.8" height="2.0" fill="#ee4424" stroke="#0a0a0a" stroke-width="1"/>
<rect x="695.37" y="178.2" width="2.8" height="2.9" fill="#12aa4a" stroke="#0a0a0a" stroke-width="1"/>
<rect x="699.39" y="171.0" width="2.8" height="9.2" fill="#12aa4a" stroke="#0a0a0a" stroke-width="1"/>
<rect x="703.41" y="165.0" width="2.8" height="5.2" fill="#12aa4a" stroke="#0a0a0a" stroke-width="1"/>
<rect x="707.43" y="171.6" width="2.8" height="3.6" fill="#ee4424" stroke="#0a0a0a" stroke-width="1"/>
<rect x="711.45" y="165.4" width="2.8" height="9.1" fill="#12aa4a" stroke="#0a0a0a" stroke-width="1"/>
<rect x="715.17" y="162.8" width="3.4" height="1.2" fill="#1a1a1a"/>
<rect x="719.50" y="161.1" width="2.8" height="5.2" fill="#12aa4a" stroke="#0a0a0a" stroke-width="1"/>
<rect x="723.52" y="163.0" width="2.8" height="10.8" fill="#ee4424" stroke="#0a0a0a" stroke-width="1"/>
<rect x="727.54" y="166.6" width="2.8" height="6.0" fill="#12aa4a" stroke="#0a0a0a" stroke-width="1"/>
<rect x="731.56" y="169.5" width="2.8" height="28.7" fill="#ee4424" stroke="#0a0a0a" stroke-width="1"/>
<rect x="735.58" y="193.9" width="2.8" height="6.5" fill="#ee4424" stroke="#0a0a0a" stroke-width="1"/>
<rect x="739.60" y="202.3" width="2.8" height="22.6" fill="#ee4424" stroke="#0a0a0a" stroke-width="1"/>
<rect x="743.62" y="220.1" width="2.8" height="6.2" fill="#12aa4a" stroke="#0a0a0a" stroke-width="1"/>
<rect x="747.64" y="223.0" width="2.8" height="3.3" fill="#ee4424" stroke="#0a0a0a" stroke-width="1"/>
<rect x="751.66" y="216.7" width="2.8" height="12.0" fill="#12aa4a" stroke="#0a0a0a" stroke-width="1"/>
<rect x="755.69" y="203.7" width="2.8" height="10.1" fill="#12aa4a" stroke="#0a0a0a" stroke-width="1"/>
<rect x="759.71" y="203.7" width="2.8" height="4.6" fill="#ee4424" stroke="#0a0a0a" stroke-width="1"/>
<rect x="763.73" y="195.4" width="2.8" height="15.5" fill="#12aa4a" stroke="#0a0a0a" stroke-width="1"/>
<rect x="767.75" y="198.2" width="2.8" height="2.2" fill="#ee4424" stroke="#0a0a0a" stroke-width="1"/>
<rect x="771.77" y="193.2" width="2.8" height="5.0" fill="#12aa4a" stroke="#0a0a0a" stroke-width="1"/>
<rect x="775.79" y="194.6" width="2.8" height="4.8" fill="#ee4424" stroke="#0a0a0a" stroke-width="1"/>
<rect x="779.81" y="211.5" width="2.8" height="4.7" fill="#12aa4a" stroke="#0a0a0a" stroke-width="1"/>
<rect x="783.83" y="208.6" width="2.8" height="2.9" fill="#12aa4a" stroke="#0a0a0a" stroke-width="1"/>
<rect x="787.85" y="189.3" width="2.8" height="16.9" fill="#12aa4a" stroke="#0a0a0a" stroke-width="1"/>
<rect x="791.87" y="183.2" width="2.8" height="3.8" fill="#ee4424" stroke="#0a0a0a" stroke-width="1"/>
<rect x="795.90" y="188.0" width="2.8" height="20.5" fill="#ee4424" stroke="#0a0a0a" stroke-width="1"/>
<rect x="799.92" y="201.1" width="2.8" height="7.2" fill="#12aa4a" stroke="#0a0a0a" stroke-width="1"/>
<rect x="803.94" y="199.8" width="2.8" height="1.2" fill="#12aa4a" stroke="#0a0a0a" stroke-width="1"/>
<rect x="807.96" y="197.8" width="2.8" height="3.3" fill="#ee4424" stroke="#0a0a0a" stroke-width="1"/>
<rect x="811.98" y="198.2" width="2.8" height="5.3" fill="#12aa4a" stroke="#0a0a0a" stroke-width="1"/>
<rect x="816.00" y="195.8" width="2.8" height="5.3" fill="#12aa4a" stroke="#0a0a0a" stroke-width="1"/>
<rect x="820.02" y="186.7" width="2.8" height="10.8" fill="#12aa4a" stroke="#0a0a0a" stroke-width="1"/>
<rect x="824.04" y="187.7" width="2.8" height="14.4" fill="#ee4424" stroke="#0a0a0a" stroke-width="1"/>
<rect x="827.76" y="200.9" width="3.4" height="1.2" fill="#1a1a1a"/>
<rect x="831.78" y="200.9" width="3.4" height="1.2" fill="#1a1a1a"/>
<rect x="836.11" y="197.8" width="2.8" height="4.7" fill="#12aa4a" stroke="#0a0a0a" stroke-width="1"/>
<rect x="840.13" y="199.2" width="2.8" height="19.1" fill="#ee4424" stroke="#0a0a0a" stroke-width="1"/>
<rect x="844.15" y="219.8" width="2.8" height="5.7" fill="#ee4424" stroke="#0a0a0a" stroke-width="1"/>
<rect x="848.17" y="218.3" width="2.8" height="7.2" fill="#12aa4a" stroke="#0a0a0a" stroke-width="1"/>
<rect x="852.19" y="210.1" width="2.8" height="10.1" fill="#12aa4a" stroke="#0a0a0a" stroke-width="1"/>
<rect x="856.21" y="198.9" width="2.8" height="8.7" fill="#12aa4a" stroke="#0a0a0a" stroke-width="1"/>
<rect x="860.23" y="199.2" width="2.8" height="8.4" fill="#ee4424" stroke="#0a0a0a" stroke-width="1"/>
<rect x="864.25" y="175.6" width="2.8" height="27.6" fill="#12aa4a" stroke="#0a0a0a" stroke-width="1"/>
<rect x="867.97" y="172.4" width="3.4" height="1.2" fill="#1a1a1a"/>
<rect x="872.29" y="170.1" width="2.8" height="64.1" fill="#ee4424" stroke="#0a0a0a" stroke-width="1"/>
<rect x="876.32" y="220.5" width="2.8" height="7.9" fill="#12aa4a" stroke="#0a0a0a" stroke-width="1"/>
<rect x="880.34" y="220.6" width="2.8" height="8.6" fill="#ee4424" stroke="#0a0a0a" stroke-width="1"/>
<rect x="884.36" y="222.6" width="2.8" height="6.0" fill="#12aa4a" stroke="#0a0a0a" stroke-width="1"/>
<rect x="888.38" y="214.0" width="2.8" height="7.2" fill="#12aa4a" stroke="#0a0a0a" stroke-width="1"/>
<rect x="892.10" y="212.8" width="3.4" height="1.2" fill="#1a1a1a"/>
<rect x="896.42" y="212.6" width="2.8" height="1.8" fill="#ee4424" stroke="#0a0a0a" stroke-width="1"/>
<rect x="900.44" y="218.3" width="2.8" height="3.3" fill="#ee4424" stroke="#0a0a0a" stroke-width="1"/>
<rect x="904.46" y="223.5" width="2.8" height="6.0" fill="#ee4424" stroke="#0a0a0a" stroke-width="1"/>
<rect x="908.48" y="223.0" width="2.8" height="4.4" fill="#12aa4a" stroke="#0a0a0a" stroke-width="1"/>
<rect x="912.50" y="224.5" width="2.8" height="20.1" fill="#ee4424" stroke="#0a0a0a" stroke-width="1"/>
<rect x="916.53" y="245.6" width="2.8" height="19.9" fill="#ee4424" stroke="#0a0a0a" stroke-width="1"/>
<rect x="920.25" y="260.6" width="3.4" height="1.2" fill="#1a1a1a"/>
<rect x="924.57" y="260.9" width="2.8" height="15.0" fill="#ee4424" stroke="#0a0a0a" stroke-width="1"/>
<rect x="928.59" y="274.4" width="2.8" height="5.8" fill="#ee4424" stroke="#0a0a0a" stroke-width="1"/>
<rect x="932.61" y="256.6" width="2.8" height="24.4" fill="#12aa4a" stroke="#0a0a0a" stroke-width="1"/>
<rect x="936.63" y="249.4" width="2.8" height="6.8" fill="#12aa4a" stroke="#0a0a0a" stroke-width="1"/>
<rect x="940.65" y="242.5" width="2.8" height="4.6" fill="#12aa4a" stroke="#0a0a0a" stroke-width="1"/>
<rect x="944.67" y="240.8" width="2.8" height="2.4" fill="#ee4424" stroke="#0a0a0a" stroke-width="1"/>
<rect x="948.69" y="226.9" width="2.8" height="15.3" fill="#12aa4a" stroke="#0a0a0a" stroke-width="1"/>
<rect x="952.71" y="221.2" width="2.8" height="5.7" fill="#12aa4a" stroke="#0a0a0a" stroke-width="1"/>
<rect x="956.74" y="221.2" width="2.8" height="22.7" fill="#ee4424" stroke="#0a0a0a" stroke-width="1"/>
<rect x="960.76" y="242.0" width="2.8" height="2.6" fill="#ee4424" stroke="#0a0a0a" stroke-width="1"/>
<rect x="964.78" y="241.3" width="2.8" height="1.8" fill="#12aa4a" stroke="#0a0a0a" stroke-width="1"/>
<rect x="968.80" y="240.4" width="2.8" height="7.8" fill="#ee4424" stroke="#0a0a0a" stroke-width="1"/>
<rect x="972.82" y="233.5" width="2.8" height="15.8" fill="#12aa4a" stroke="#0a0a0a" stroke-width="1"/>
<rect x="976.54" y="231.2" width="3.4" height="1.2" fill="#1a1a1a"/>
<rect x="980.86" y="211.3" width="2.8" height="14.7" fill="#12aa4a" stroke="#0a0a0a" stroke-width="1"/>
<rect x="984.88" y="210.5" width="2.8" height="1.7" fill="#ee4424" stroke="#0a0a0a" stroke-width="1"/>
<rect x="988.90" y="210.2" width="2.8" height="6.1" fill="#ee4424" stroke="#0a0a0a" stroke-width="1"/>
<rect x="992.92" y="216.3" width="2.8" height="8.0" fill="#ee4424" stroke="#0a0a0a" stroke-width="1"/>
<rect x="996.95" y="219.7" width="2.8" height="7.7" fill="#12aa4a" stroke="#0a0a0a" stroke-width="1"/>
<rect x="1000.97" y="216.3" width="2.8" height="3.4" fill="#12aa4a" stroke="#0a0a0a" stroke-width="1"/>
<rect x="1004.99" y="213.6" width="2.8" height="4.2" fill="#ee4424" stroke="#0a0a0a" stroke-width="1"/>
<rect x="1009.01" y="216.6" width="2.8" height="2.8" fill="#12aa4a" stroke="#0a0a0a" stroke-width="1"/>
<rect x="1013.03" y="209.7" width="2.8" height="7.7" fill="#12aa4a" stroke="#0a0a0a" stroke-width="1"/>
<rect x="1017.05" y="206.2" width="2.8" height="1.4" fill="#ee4424" stroke="#0a0a0a" stroke-width="1"/>
</g>
<path d="M610.7 83 Q612.4 80.2 614.1 83" fill="none" stroke="#f0683c" stroke-width="1"/>
<path d="M204.8 491.5 Q206.3 494.8 207.8 491.5" fill="none" stroke="#ea4325" stroke-width="1"/>
<path d="M612.3 88.2 L1087 220.2" stroke="#000" stroke-width="3.1" fill="none" stroke-linecap="butt"/>
<text x="462.5" y="80.9" font-size="12.2" fill="#1a1a1a" textLength="69" lengthAdjust="spacingAndGlyphs">0.0% 2,093.7</text>
<text x="463" y="305.6" font-size="12" fill="#1a1a1a" textLength="74.5" lengthAdjust="spacingAndGlyphs">38.2% 1,737.3</text>
<text x="463" y="375.2" font-size="12" fill="#1a1a1a" textLength="74.5" lengthAdjust="spacingAndGlyphs">50.0% 1,627.2</text>
<text x="463" y="445" font-size="12" fill="#1a1a1a" textLength="74.5" lengthAdjust="spacingAndGlyphs">61.8% 1,517.2</text>
<g id="vol">
<rect x="12" y="581.4" width="3" height="72.4" fill="#0aa750"/><rect x="16" y="595.2" width="3" height="58.6" fill="#0aa750"/><rect x="20" y="550.4" width="3" height="103.4" fill="#f04b25"/><rect x="24" y="605.2" width="3" height="48.6" fill="#f04b25"/><rect x="28" y="606.4" width="3" height="47.4" fill="#0aa750"/><rect x="32" y="606.4" width="3" height="47.4" fill="#f04b25"/><rect x="36" y="607.7" width="3" height="46.1" fill="#f04b25"/><rect x="40" y="611.1" width="3" height="42.7" fill="#0aa750"/><rect x="44" y="618.5" width="3" height="35.3" fill="#f04b25"/><rect x="48" y="617.1" width="3" height="36.7" fill="#0aa750"/><rect x="52" y="590.1" width="3" height="63.7" fill="#f04b25"/><rect x="56" y="610.2" width="3" height="43.6" fill="#f04b25"/><rect x="60" y="602.1" width="3" height="51.7" fill="#0aa750"/><rect x="64" y="587.1" width="3" height="66.7" fill="#0aa750"/><rect x="68" y="589.2" width="3" height="64.6" fill="#0aa750"/><rect x="72" y="583.1" width="3" height="70.7" fill="#f04b25"/><rect x="76" y="592.1" width="3" height="61.7" fill="#0aa750"/><rect x="80" y="599.0" width="3" height="54.8" fill="#0aa750"/><rect x="84" y="611.6" width="3" height="42.2" fill="#f04b25"/><rect x="88" y="615.1" width="3" height="38.7" fill="#f04b25"/><rect x="92" y="611.3" width="3" height="42.5" fill="#f04b25"/><rect x="96" y="615.9" width="3" height="37.9" fill="#0aa750"/><rect x="100" y="626.0" width="3" height="27.8" fill="#0aa750"/><rect x="104" y="619.0" width="3" height="34.8" fill="#0aa750"/><rect x="108" y="630.1" width="3" height="23.7" fill="#0aa750"/><rect x="112" y="624.2" width="3" height="29.6" fill="#f04b25"/><rect x="116" y="628.9" width="3" height="24.9" fill="#0aa750"/><rect x="120" y="620.3" width="3" height="33.5" fill="#0aa750"/><rect x="124" y="624.6" width="3" height="29.2" fill="#0aa750"/><rect x="128" y="602.5" width="3" height="51.3" fill="#0aa750"/><rect x="132" y="615.9" width="3" height="37.9" fill="#0aa750"/><rect x="136" y="604.2" width="3" height="49.6" fill="#0aa750"/><rect x="140" y="593.2" width="3" height="60.6" fill="#0aa750"/><rect x="144" y="566.2" width="3" height="87.6" fill="#0aa750"/><rect x="148" y="570.7" width="3" height="83.1" fill="#f04b25"/><rect x="152" y="587.8" width="3" height="66.0" fill="#f04b25"/><rect x="156" y="582.3" width="3" height="71.5" fill="#f04b25"/><rect x="160" y="556.4" width="3" height="97.4" fill="#f04b25"/><rect x="164" y="598.3" width="3" height="55.5" fill="#0aa750"/><rect x="169" y="594.4" width="3" height="59.4" fill="#0aa750"/><rect x="173" y="613.0" width="3" height="40.8" fill="#f04b25"/><rect x="177" y="607.3" width="3" height="46.5" fill="#0aa750"/><rect x="181" y="566.2" width="3" height="87.6" fill="#0aa750"/><rect x="185" y="586.9" width="3" height="66.9" fill="#0aa750"/><rect x="189" y="601.3" width="3" height="52.5" fill="#f04b25"/><rect x="193" y="594.4" width="3" height="59.4" fill="#f04b25"/><rect x="197" y="569.3" width="3" height="84.5" fill="#f04b25"/><rect x="201" y="579.7" width="3" height="74.1" fill="#f04b25"/><rect x="205" y="577.1" width="3" height="76.7" fill="#f04b25"/><rect x="209" y="593.0" width="3" height="60.8" fill="#0aa750"/><rect x="213" y="593.2" width="3" height="60.6" fill="#f04b25"/><rect x="217" y="607.0" width="3" height="46.8" fill="#0aa750"/><rect x="221" y="615.1" width="3" height="38.7" fill="#0aa750"/><rect x="225" y="598.2" width="3" height="55.6" fill="#0aa750"/><rect x="229" y="580.6" width="3" height="73.2" fill="#0aa750"/><rect x="233" y="609.0" width="3" height="44.8" fill="#f04b25"/><rect x="237" y="607.3" width="3" height="46.5" fill="#0aa750"/><rect x="241" y="620.3" width="3" height="33.5" fill="#f04b25"/><rect x="245" y="632.0" width="3" height="21.8" fill="#f04b25"/><rect x="249" y="631.5" width="3" height="22.3" fill="#f04b25"/><rect x="253" y="633.2" width="3" height="20.6" fill="#f04b25"/><rect x="257" y="632.7" width="3" height="21.1" fill="#0aa750"/><rect x="261" y="636.7" width="3" height="17.1" fill="#0aa750"/><rect x="265" y="629.2" width="3" height="24.6" fill="#0aa750"/><rect x="269" y="627.7" width="3" height="26.1" fill="#f04b25"/><rect x="273" y="638.0" width="3" height="15.8" fill="#0aa750"/><rect x="277" y="625.4" width="3" height="28.4" fill="#0aa750"/><rect x="281" y="633.2" width="3" height="20.6" fill="#0aa750"/><rect x="285" y="623.4" width="3" height="30.4" fill="#0aa750"/><rect x="289" y="630.6" width="3" height="23.2" fill="#f04b25"/><rect x="293" y="628.4" width="3" height="25.4" fill="#f04b25"/><rect x="297" y="625.1" width="3" height="28.7" fill="#f04b25"/><rect x="301" y="630.3" width="3" height="23.5" fill="#0aa750"/><rect x="305" y="622.8" width="3" height="31.0" fill="#f04b25"/><rect x="309" y="629.7" width="3" height="24.1" fill="#0aa750"/><rect x="313" y="628.9" width="3" height="24.9" fill="#0aa750"/><rect x="317" y="631.5" width="3" height="22.3" fill="#f04b25"/><rect x="321" y="635.3" width="3" height="18.5" fill="#f04b25"/><rect x="325" y="632.3" width="3" height="21.5" fill="#f04b25"/><rect x="329" y="634.4" width="3" height="19.4" fill="#f04b25"/><rect x="333" y="624.2" width="3" height="29.6" fill="#f04b25"/><rect x="337" y="632.3" width="3" height="21.5" fill="#0aa750"/><rect x="341" y="634.6" width="3" height="19.2" fill="#0aa750"/><rect x="345" y="629.2" width="3" height="24.6" fill="#f04b25"/><rect x="349" y="626.6" width="3" height="27.2" fill="#f04b25"/><rect x="353" y="617.7" width="3" height="36.1" fill="#0aa750"/><rect x="358" y="619.7" width="3" height="34.1" fill="#f04b25"/><rect x="362" y="622.8" width="3" height="31.0" fill="#f04b25"/><rect x="366" y="624.2" width="3" height="29.6" fill="#0aa750"/><rect x="370" y="623.7" width="3" height="30.1" fill="#0aa750"/><rect x="374" y="625.8" width="3" height="28.0" fill="#0aa750"/><rect x="378" y="627.2" width="3" height="26.6" fill="#0aa750"/><rect x="382" y="618.2" width="3" height="35.6" fill="#f04b25"/><rect x="386" y="628.5" width="3" height="25.3" fill="#0aa750"/><rect x="390" y="627.5" width="3" height="26.3" fill="#0aa750"/><rect x="394" y="617.1" width="3" height="36.7" fill="#f04b25"/><rect x="398" y="621.6" width="3" height="32.2" fill="#0aa750"/><rect x="402" y="597.5" width="3" height="56.3" fill="#f04b25"/><rect x="406" y="617.1" width="3" height="36.7" fill="#0aa750"/><rect x="410" y="630.3" width="3" height="23.5" fill="#0aa750"/><rect x="414" y="634.4" width="3" height="19.4" fill="#0aa750"/><rect x="418" y="635.8" width="3" height="18.0" fill="#f04b25"/><rect x="422" y="632.3" width="3" height="21.5" fill="#f04b25"/><rect x="426" y="621.1" width="3" height="32.7" fill="#f04b25"/><rect x="430" y="629.2" width="3" height="24.6" fill="#0aa750"/><rect x="434" y="619.4" width="3" height="34.4" fill="#f04b25"/><rect x="438" y="634.6" width="3" height="19.2" fill="#0aa750"/><rect x="442" y="630.6" width="3" height="23.2" fill="#0aa750"/><rect x="446" y="628.5" width="3" height="25.3" fill="#f04b25"/><rect x="450" y="628.4" width="3" height="25.4" fill="#0aa750"/><rect x="454" y="635.3" width="3" height="18.5" fill="#f04b25"/><rect x="458" y="629.4" width="3" height="24.4" fill="#f04b25"/><rect x="462" y="631.8" width="3" height="22.0" fill="#0aa750"/><rect x="466" y="636.7" width="3" height="17.1" fill="#f04b25"/><rect x="470" y="634.6" width="3" height="19.2" fill="#f04b25"/><rect x="474" y="631.0" width="3" height="22.8" fill="#0aa750"/><rect x="478" y="625.4" width="3" height="28.4" fill="#0aa750"/><rect x="482" y="630.1" width="3" height="23.7" fill="#0aa750"/><rect x="486" y="624.1" width="3" height="29.7" fill="#f04b25"/><rect x="490" y="634.6" width="3" height="19.2" fill="#f04b25"/><rect x="494" y="629.2" width="3" height="24.6" fill="#0aa750"/><rect x="498" y="637.9" width="3" height="15.9" fill="#0aa750"/><rect x="502" y="628.9" width="3" height="24.9" fill="#0aa750"/><rect x="506" y="620.3" width="3" height="33.5" fill="#f04b25"/><rect x="510" y="630.1" width="3" height="23.7" fill="#0aa750"/><rect x="514" y="629.7" width="3" height="24.1" fill="#0aa750"/><rect x="518" y="624.2" width="3" height="29.6" fill="#0aa750"/><rect x="522" y="616.8" width="3" height="37.0" fill="#0aa750"/><rect x="526" y="614.2" width="3" height="39.6" fill="#f04b25"/><rect x="530" y="622.0" width="3" height="31.8" fill="#f04b25"/><rect x="534" y="622.0" width="3" height="31.8" fill="#0aa750"/><rect x="538" y="618.2" width="3" height="35.6" fill="#f04b25"/><rect x="542" y="630.3" width="3" height="23.5" fill="#0aa750"/><rect x="546" y="628.4" width="3" height="25.4" fill="#f04b25"/><rect x="551" y="632.0" width="3" height="21.8" fill="#0aa750"/><rect x="555" y="630.1" width="3" height="23.7" fill="#0aa750"/><rect x="559" y="616.8" width="3" height="37.0" fill="#0aa750"/><rect x="563" y="600.9" width="3" height="52.9" fill="#0aa750"/><rect x="567" y="594.0" width="3" height="59.8" fill="#0aa750"/><rect x="571" y="608.7" width="3" height="45.1" fill="#0aa750"/><rect x="575" y="583.5" width="3" height="70.3" fill="#0aa750"/><rect x="579" y="579.4" width="3" height="74.4" fill="#0aa750"/><rect x="583" y="601.8" width="3" height="52.0" fill="#0aa750"/><rect x="587" y="615.1" width="3" height="38.7" fill="#f04b25"/><rect x="591" y="618.0" width="3" height="35.8" fill="#0aa750"/><rect x="595" y="630.6" width="3" height="23.2" fill="#0aa750"/><rect x="599" y="618.2" width="3" height="35.6" fill="#0aa750"/><rect x="603" y="606.4" width="3" height="47.4" fill="#0aa750"/><rect x="607" y="613.7" width="3" height="40.1" fill="#0aa750"/><rect x="611" y="602.1" width="3" height="51.7" fill="#f04b25"/><rect x="615" y="622.0" width="3" height="31.8" fill="#0aa750"/><rect x="619" y="581.1" width="3" height="72.7" fill="#f04b25"/><rect x="623" y="596.1" width="3" height="57.7" fill="#0aa750"/><rect x="627" y="610.4" width="3" height="43.4" fill="#0aa750"/><rect x="631" y="624.1" width="3" height="29.7" fill="#f04b25"/><rect x="635" y="617.1" width="3" height="36.7" fill="#0aa750"/><rect x="639" y="609.0" width="3" height="44.8" fill="#0aa750"/><rect x="643" y="598.7" width="3" height="55.1" fill="#f04b25"/><rect x="647" y="606.1" width="3" height="47.7" fill="#f04b25"/><rect x="651" y="609.9" width="3" height="43.9" fill="#0aa750"/><rect x="655" y="618.5" width="3" height="35.3" fill="#f04b25"/><rect x="659" y="620.3" width="3" height="33.5" fill="#f04b25"/><rect x="663" y="610.8" width="3" height="43.0" fill="#0aa750"/><rect x="667" y="596.1" width="3" height="57.7" fill="#f04b25"/><rect x="671" y="612.5" width="3" height="41.3" fill="#0aa750"/><rect x="675" y="624.1" width="3" height="29.7" fill="#0aa750"/><rect x="679" y="615.9" width="3" height="37.9" fill="#0aa750"/><rect x="683" y="613.0" width="3" height="40.8" fill="#f04b25"/><rect x="687" y="617.1" width="3" height="36.7" fill="#f04b25"/><rect x="691" y="616.8" width="3" height="37.0" fill="#f04b25"/><rect x="695" y="602.5" width="3" height="51.3" fill="#0aa750"/><rect x="699" y="626.0" width="3" height="27.8" fill="#0aa750"/><rect x="703" y="620.3" width="3" height="33.5" fill="#0aa750"/><rect x="707" y="628.4" width="3" height="25.4" fill="#f04b25"/><rect x="711" y="629.4" width="3" height="24.4" fill="#0aa750"/><rect x="715" y="623.4" width="3" height="30.4" fill="#0aa750"/><rect x="719" y="617.1" width="3" height="36.7" fill="#0aa750"/><rect x="723" y="620.3" width="3" height="33.5" fill="#f04b25"/><rect x="727" y="632.3" width="3" height="21.5" fill="#0aa750"/><rect x="731" y="605.6" width="3" height="48.2" fill="#f04b25"/><rect x="735" y="619.4" width="3" height="34.4" fill="#f04b25"/><rect x="740" y="602.5" width="3" height="51.3" fill="#f04b25"/><rect x="744" y="610.4" width="3" height="43.4" fill="#0aa750"/><rect x="748" y="625.4" width="3" height="28.4" fill="#f04b25"/><rect x="752" y="624.6" width="3" height="29.2" fill="#0aa750"/><rect x="756" y="627.5" width="3" height="26.3" fill="#0aa750"/><rect x="760" y="622.8" width="3" height="31.0" fill="#f04b25"/><rect x="764" y="622.5" width="3" height="31.3" fill="#0aa750"/><rect x="768" y="628.4" width="3" height="25.4" fill="#f04b25"/><rect x="772" y="632.3" width="3" height="21.5" fill="#0aa750"/><rect x="776" y="627.2" width="3" height="26.6" fill="#f04b25"/><rect x="780" y="630.1" width="3" height="23.7" fill="#f04b25"/><rect x="784" y="630.6" width="3" height="23.2" fill="#0aa750"/><rect x="788" y="625.1" width="3" height="28.7" fill="#0aa750"/><rect x="792" y="634.4" width="3" height="19.4" fill="#0aa750"/><rect x="796" y="621.1" width="3" height="32.7" fill="#f04b25"/><rect x="800" y="631.1" width="3" height="22.7" fill="#0aa750"/><rect x="804" y="627.7" width="3" height="26.1" fill="#0aa750"/><rect x="808" y="636.1" width="3" height="17.7" fill="#f04b25"/><rect x="812" y="634.1" width="3" height="19.7" fill="#0aa750"/><rect x="816" y="634.1" width="3" height="19.7" fill="#0aa750"/><rect x="820" y="629.2" width="3" height="24.6" fill="#0aa750"/><rect x="824" y="627.2" width="3" height="26.6" fill="#f04b25"/><rect x="828" y="633.2" width="3" height="20.6" fill="#0aa750"/><rect x="832" y="633.7" width="3" height="20.1" fill="#0aa750"/><rect x="836" y="634.9" width="3" height="18.9" fill="#0aa750"/><rect x="840" y="618.2" width="3" height="35.6" fill="#f04b25"/><rect x="844" y="626.0" width="3" height="27.8" fill="#f04b25"/><rect x="848" y="627.2" width="3" height="26.6" fill="#0aa750"/><rect x="852" y="632.9" width="3" height="20.9" fill="#0aa750"/><rect x="856" y="631.5" width="3" height="22.3" fill="#0aa750"/><rect x="860" y="615.6" width="3" height="38.2" fill="#f04b25"/><rect x="864" y="614.7" width="3" height="39.1" fill="#0aa750"/><rect x="868" y="619.4" width="3" height="34.4" fill="#0aa750"/><rect x="872" y="581.9" width="3" height="71.9" fill="#f04b25"/><rect x="876" y="615.1" width="3" height="38.7" fill="#0aa750"/><rect x="880" y="622.3" width="3" height="31.5" fill="#f04b25"/><rect x="884" y="623.2" width="3" height="30.6" fill="#0aa750"/><rect x="888" y="631.8" width="3" height="22.0" fill="#0aa750"/><rect x="892" y="623.2" width="3" height="30.6" fill="#0aa750"/><rect x="896" y="631.1" width="3" height="22.7" fill="#f04b25"/><rect x="900" y="623.2" width="3" height="30.6" fill="#f04b25"/><rect x="904" y="622.3" width="3" height="31.5" fill="#f04b25"/><rect x="908" y="625.8" width="3" height="28.0" fill="#0aa750"/><rect x="912" y="602.1" width="3" height="51.7" fill="#f04b25"/><rect x="916" y="593.2" width="3" height="60.6" fill="#f04b25"/><rect x="920" y="613.0" width="3" height="40.8" fill="#0aa750"/><rect x="924" y="610.2" width="3" height="43.6" fill="#f04b25"/><rect x="928" y="624.2" width="3" height="29.6" fill="#f04b25"/><rect x="933" y="628.9" width="3" height="24.9" fill="#0aa750"/><rect x="937" y="630.6" width="3" height="23.2" fill="#0aa750"/><rect x="941" y="631.8" width="3" height="22.0" fill="#0aa750"/><rect x="945" y="632.3" width="3" height="21.5" fill="#f04b25"/><rect x="949" y="627.5" width="3" height="26.3" fill="#0aa750"/><rect x="953" y="635.3" width="3" height="18.5" fill="#0aa750"/><rect x="957" y="626.8" width="3" height="27.0" fill="#f04b25"/><rect x="961" y="633.2" width="3" height="20.6" fill="#f04b25"/><rect x="965" y="634.6" width="3" height="19.2" fill="#0aa750"/><rect x="969" y="633.2" width="3" height="20.6" fill="#f04b25"/><rect x="973" y="632.9" width="3" height="20.9" fill="#0aa750"/><rect x="977" y="629.4" width="3" height="24.4" fill="#0aa750"/><rect x="981" y="627.2" width="3" height="26.6" fill="#0aa750"/><rect x="985" y="635.4" width="3" height="18.4" fill="#f04b25"/><rect x="989" y="625.8" width="3" height="28.0" fill="#f04b25"/><rect x="993" y="632.3" width="3" height="21.5" fill="#f04b25"/><rect x="997" y="634.1" width="3" height="19.7" fill="#0aa750"/><rect x="1001" y="643.0" width="3" height="10.8" fill="#0aa750"/><rect x="1005" y="629.7" width="3" height="24.1" fill="#f04b25"/><rect x="1009" y="635.4" width="3" height="18.4" fill="#0aa750"/><rect x="1013" y="637.9" width="3" height="15.9" fill="#0aa750"/>
</g>
<path d="M13.5 561.6 C18.3 561.4 33.9 560.4 42.5 560.4 C51.1 560.4 59.2 559.7 65.0 561.6 C70.8 563.5 72.1 569.4 77.0 572.0 C81.9 574.6 87.4 576.3 94.3 577.1 C101.2 577.9 112.5 577.8 118.5 576.6 C124.5 575.4 126.2 571.2 130.5 569.7 C134.8 568.2 139.8 567.7 144.4 567.6 C149.0 567.5 154.8 568.4 158.2 569.3 C161.6 570.2 163.0 572.6 165.0 573.1 C167.0 573.6 167.9 572.5 170.0 572.4 C172.1 572.3 175.5 572.0 177.8 572.8 C180.1 573.6 181.1 575.8 183.8 577.1 C186.5 578.4 191.3 579.2 194.2 580.6 C197.1 582.0 198.5 584.2 201.1 585.2 C203.7 586.2 206.5 585.9 209.7 586.6 C212.8 587.3 217.1 588.9 220.0 589.2 C222.9 589.5 224.4 588.0 227.0 588.3 C229.6 588.6 232.7 590.2 235.6 590.9 C238.5 591.6 241.6 591.7 244.2 592.6 C246.8 593.5 246.2 595.2 251.1 596.1 C256.0 597.0 267.0 597.8 273.6 597.8 C280.2 597.8 282.2 596.5 290.8 596.1 C299.4 595.7 317.1 595.1 325.3 595.2 C333.5 595.3 335.8 596.5 340.0 596.6 C344.2 596.8 347.9 596.4 350.5 596.1 C353.1 595.8 353.2 594.8 355.7 594.7 C358.1 594.6 362.0 596.1 365.2 595.7 C368.4 595.3 370.2 593.1 374.7 592.3 C379.2 591.5 386.2 590.6 392.0 590.9 C397.8 591.1 405.2 592.8 409.2 593.8 C413.2 594.8 411.2 596.2 416.1 597.0 C421.0 597.8 432.0 598.8 438.6 598.7 C445.2 598.6 450.4 597.1 455.8 596.6 C461.2 596.1 467.9 596.3 471.3 595.6 C474.8 594.9 473.9 593.4 476.5 592.6 C479.1 591.8 483.0 591.1 486.9 590.6 C490.8 590.1 496.7 589.9 500.0 589.5 C503.3 589.1 503.2 588.8 506.9 588.3 C510.6 587.8 517.8 586.5 522.4 586.3 C527.0 586.1 529.9 587.1 534.5 586.9 C539.1 586.7 545.1 586.0 550.0 585.2 C554.9 584.4 559.6 582.4 563.9 581.9 C568.2 581.4 572.2 581.9 575.9 582.3 C579.6 582.6 583.4 583.0 586.3 584.0 C589.2 585.0 589.2 587.5 593.2 588.3 C597.2 589.1 603.9 588.4 610.5 588.7 C617.1 589.1 625.4 590.3 632.9 590.4 C640.4 590.5 649.1 589.2 655.3 589.2 C661.5 589.2 666.1 590.0 670.0 590.1 C673.9 590.2 675.0 590.2 678.8 590.1 C682.6 590.0 688.6 589.7 692.6 589.2 C696.6 588.7 698.4 587.5 703.0 586.9 C707.6 586.3 713.9 585.8 720.2 585.7 C726.5 585.6 736.7 585.9 740.9 586.3 C745.1 586.7 740.7 587.8 745.3 588.3 C749.9 588.8 762.1 589.0 768.6 589.2 C775.1 589.4 780.7 589.9 784.1 589.7 C787.5 589.6 786.4 588.4 789.3 588.3 C792.2 588.2 796.0 589.5 801.3 589.2 C806.6 588.9 816.9 586.8 821.2 586.6 C825.5 586.5 824.6 588.1 827.2 588.3 C829.8 588.5 833.5 587.5 836.9 587.8 C840.2 588.1 843.6 589.8 847.3 590.1 C851.0 590.4 856.1 590.3 859.3 589.7 C862.4 589.1 863.6 586.7 866.2 586.6 C868.8 586.5 871.4 588.9 874.9 589.2 C878.4 589.5 882.1 588.4 887.0 588.3 C891.9 588.2 899.8 588.8 904.2 588.7 C908.7 588.6 910.8 587.3 913.7 587.5 C916.6 587.7 917.6 589.2 921.5 589.7 C925.4 590.2 932.1 590.7 937.0 590.6 C941.9 590.5 946.2 589.3 950.8 589.2 C955.4 589.1 959.4 590.4 964.6 590.1 C969.8 589.8 976.0 587.9 981.9 587.5 C987.8 587.1 995.3 587.6 1000.0 587.8 C1004.7 588.0 1008.3 588.4 1010.0 588.5" fill="none" stroke="#b946cc" stroke-width="2" stroke-linejoin="round" stroke-linecap="round"/>
<text x="22" y="66" font-size="12.2" font-weight="bold" fill="#111" textLength="22" lengthAdjust="spacingAndGlyphs">null</text>
<path d="M63.1 58 L70.3 65.2 M70.3 58 L63.1 65.2" stroke="#555" stroke-width="1.1"/>
<text x="79" y="66" font-size="12.2" font-weight="bold" fill="#111" textLength="105" lengthAdjust="spacingAndGlyphs">MAEXP (50, Close)</text>
<path d="M202 58 L209.2 65.2 M209.2 58 L202 65.2" stroke="#555" stroke-width="1.1"/>
<text x="218" y="66" font-size="12.2" font-weight="bold" fill="#111" textLength="112" lengthAdjust="spacingAndGlyphs">MAEXP (200, Close)</text>
<path d="M1077.4 60.9 L1081.1 64.8 L1084.8 60.9" fill="none" stroke="#333" stroke-width="1.3"/>
<path d="M25.2 553 L31.6 559.4 M31.6 553 L25.2 559.4" stroke="#555" stroke-width="1"/>
<text x="41.7" y="560.7" font-size="12" font-weight="bold" fill="#111" textLength="22.4" lengthAdjust="spacingAndGlyphs">VOL</text>
<path d="M1077 561.2 L1081.1 556.6 L1085.2 561.2" fill="none" stroke="#333" stroke-width="1.3"/>
<text x="1113.7" y="83.2" font-size="12" fill="#555" textLength="38.6" lengthAdjust="spacingAndGlyphs">2,100.0</text>
<text x="1113.7" y="146.1" font-size="12" fill="#555" textLength="38.6" lengthAdjust="spacingAndGlyphs">2,000.0</text>
<text x="1113.7" y="209.3" font-size="12" fill="#555" textLength="38.6" lengthAdjust="spacingAndGlyphs">1,900.0</text>
<text x="1113.7" y="272.6" font-size="12" fill="#555" textLength="38.6" lengthAdjust="spacingAndGlyphs">1,800.0</text>
<text x="1113.7" y="335.8" font-size="12" fill="#555" textLength="38.6" lengthAdjust="spacingAndGlyphs">1,700.0</text>
<text x="1113.7" y="399.0" font-size="12" fill="#555" textLength="38.6" lengthAdjust="spacingAndGlyphs">1,600.0</text>
<text x="1113.7" y="462.2" font-size="12" fill="#555" textLength="38.6" lengthAdjust="spacingAndGlyphs">1,500.0</text>
<text x="1113.7" y="525.5" font-size="12" fill="#555" textLength="38.6" lengthAdjust="spacingAndGlyphs">1,400.0</text>
<path d="M1101.3 222.3 L1108.4 212.0 L1157 212.0 L1157 232.6 L1108.4 232.6 Z" fill="#b0282e"/>
<text x="1113.6" y="225.4" font-size="12.3" font-weight="bold" fill="#fff" textLength="38.8" lengthAdjust="spacingAndGlyphs">1,873.3</text>
<path d="M1101.3 207.5 L1108.4 197.2 L1157 197.2 L1157 217.8 L1108.4 217.8 Z" fill="#f0462a"/>
<text x="1113.6" y="211.4" font-size="12.3" font-weight="bold" fill="#fff" textLength="38.8" lengthAdjust="spacingAndGlyphs">1,896.3</text>
<path d="M1101.3 259.4 L1108.4 249.1 L1157 249.1 L1157 269.7 L1108.4 269.7 Z" fill="#1534f5"/>
<text x="1113.6" y="263.3" font-size="12.3" font-weight="bold" fill="#fff" textLength="38.8" lengthAdjust="spacingAndGlyphs">1,813.9</text>
<path d="M1101.3 588.4 L1108.4 578.2 L1144.6 578.2 L1144.6 598.6 L1108.4 598.6 Z" fill="#ba46c9"/>
<text x="1113" y="592.3" font-size="12.3" font-weight="bold" fill="#fff" textLength="27" lengthAdjust="spacingAndGlyphs">556K</text>
<path d="M1101.3 653.2 L1108.4 643.4 L1131.6 643.4 L1131.6 663.0 L1108.4 663.0 Z" fill="#0fa850"/>
<text x="1113" y="657.1" font-size="12.3" font-weight="bold" fill="#fff" textLength="14" lengthAdjust="spacingAndGlyphs">0K</text>
<g shape-rendering="crispEdges">
<rect x="89.20" y="654" width="1" height="13.5" fill="#d0d0d0"/><rect x="165.55" y="654" width="1" height="13.5" fill="#d0d0d0"/><rect x="253.70" y="654" width="1" height="13.5" fill="#d0d0d0"/><rect x="338.25" y="654" width="1" height="13.5" fill="#d0d0d0"/><rect x="418.75" y="654" width="1" height="13.5" fill="#d0d0d0"/><rect x="506.50" y="654" width="1" height="13.5" fill="#d0d0d0"/><rect x="595.75" y="654" width="1" height="13.5" fill="#d0d0d0"/><rect x="679.75" y="654" width="1" height="13.5" fill="#d0d0d0"/><rect x="764.50" y="654" width="1" height="13.5" fill="#d0d0d0"/><rect x="852.50" y="654" width="1" height="13.5" fill="#d0d0d0"/><rect x="933.50" y="654" width="1" height="13.5" fill="#d0d0d0"/><rect x="1021.75" y="654" width="1" height="13.5" fill="#d0d0d0"/></g>
<text x="69.7" y="682.3" font-size="12.3" fill="#666" textLength="40" lengthAdjust="spacingAndGlyphs">Feb '20</text>
<text x="144.8" y="682.3" font-size="12.3" fill="#666" textLength="42.5" lengthAdjust="spacingAndGlyphs">Mar '20</text>
<text x="234.2" y="682.3" font-size="12.3" fill="#666" textLength="40" lengthAdjust="spacingAndGlyphs">Apr '20</text>
<text x="316.6" y="682.3" font-size="12.3" fill="#666" textLength="44.2" lengthAdjust="spacingAndGlyphs">May '20</text>
<text x="399.9" y="682.3" font-size="12.3" fill="#666" textLength="38.8" lengthAdjust="spacingAndGlyphs">Jun '20</text>
<text x="489.8" y="682.3" font-size="12.3" fill="#666" textLength="34.5" lengthAdjust="spacingAndGlyphs">Jul '20</text>
<text x="575.8" y="682.3" font-size="12.3" fill="#666" textLength="41" lengthAdjust="spacingAndGlyphs">Aug '20</text>
<text x="659.9" y="682.3" font-size="12.3" fill="#666" textLength="40.8" lengthAdjust="spacingAndGlyphs">Sep '20</text>
<text x="745.2" y="682.3" font-size="12.3" fill="#666" textLength="39.5" lengthAdjust="spacingAndGlyphs">Oct '20</text>
<text x="832.5" y="682.3" font-size="12.3" fill="#666" textLength="41" lengthAdjust="spacingAndGlyphs">Nov '20</text>
<text x="913.5" y="682.3" font-size="12.3" fill="#666" textLength="41" lengthAdjust="spacingAndGlyphs">Dec '20</text>
<text x="1003.8" y="682.3" font-size="12.3" fill="#666" textLength="37" lengthAdjust="spacingAndGlyphs">Jan '21</text>
</svg>
</body></html>
